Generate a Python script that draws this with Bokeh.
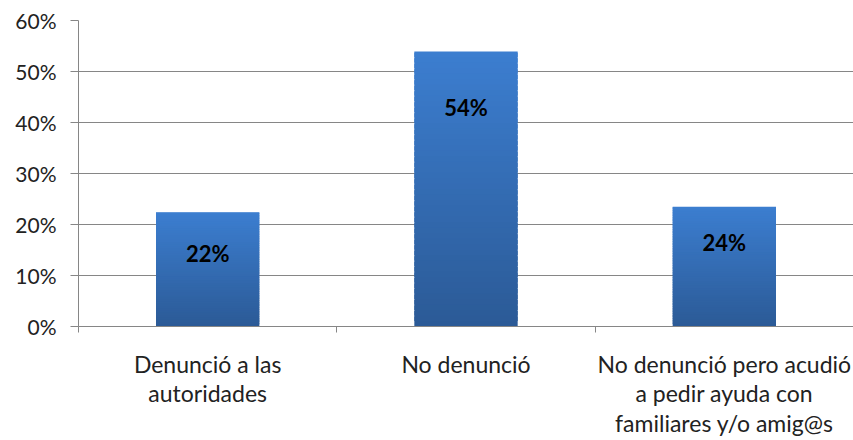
from bokeh.plotting import figure
from bokeh.embed import file_html
from bokeh.resources import INLINE
from bokeh.models import FixedTicker, PrintfTickFormatter, Range1d, ColumnDataSource
from bokeh.core.properties import value

categories = ["Denunció a las\nautoridades", "No denunció",
              "No denunció pero acudió\na pedir ayuda con\nfamiliares y/o amig@s"]
values = [22.4, 53.9, 23.5]
bar_labels = ["22%", "54%", "24%"]
y_ticks = [0, 10, 20, 30, 40, 50, 60]

FONT = "Lato"
GRID = "#868686"
TOP = (0x3C, 0x7E, 0xD0)
BOT = (0x2B, 0x5A, 0x96)

p = figure(width=853, height=440, output_backend="svg", toolbar_location=None,
           x_range=Range1d(0, len(categories)), y_range=Range1d(0, 60),
           min_border_left=78, min_border_right=0, min_border_top=20, min_border_bottom=114)
p.outline_line_color = None
p.xgrid.grid_line_color = None
p.ygrid.grid_line_color = GRID
p.ygrid.ticker = FixedTicker(ticks=y_ticks)

# bars with vertical gradient (overlapping slices of each bar)
N = 50
xs_l, xs_r, bs, ts, cols = [], [], [], [], []
for i, v in enumerate(values):
    cx = i + 0.5
    for k in range(N):
        t = (k + 0.5) / N
        c = tuple(int(round(BOT[j] + (TOP[j] - BOT[j]) * t)) for j in range(3))
        xs_l.append(cx - 0.2)
        xs_r.append(cx + 0.2)
        bs.append(v * k / N)
        ts.append(min(v, v * (k + 1.8) / N))
        cols.append("#%02x%02x%02x" % c)
p.quad(left=xs_l, right=xs_r, bottom=bs, top=ts, fill_color=cols, line_color=None)

label_offsets = [41, 56, 36]
src = ColumnDataSource(dict(x=[i + 0.5 for i in range(len(values))], y=values,
                            t=bar_labels, off=label_offsets))
p.text(x="x", y="y", text="t", y_offset="off", source=src, text_align="center",
       text_baseline="middle", text_font=value(FONT), text_font_style="bold",
       text_font_size="22px", text_color="#000000")

# y axis
ya = p.yaxis[0]
ya.ticker = FixedTicker(ticks=y_ticks)
ya.formatter = PrintfTickFormatter(format="%d%%")
ya.axis_line_color = GRID
ya.major_tick_line_color = GRID
ya.major_tick_out = 8
ya.major_tick_in = 0
ya.minor_tick_line_color = None
ya.major_label_text_font = FONT
ya.major_label_text_font_size = "21px"
ya.major_label_text_color = "#222222"
ya.major_label_standoff = 14

# x axis
xa = p.xaxis[0]
xa.ticker = FixedTicker(ticks=[i + 0.5 for i in range(len(categories))],
                        minor_ticks=list(range(len(categories) + 1)))
xa.major_label_overrides = {i + 0.5: c for i, c in enumerate(categories)}
xa.axis_line_color = GRID
xa.major_tick_line_color = None
xa.minor_tick_line_color = GRID
xa.minor_tick_out = 6
xa.minor_tick_in = 0
xa.major_label_text_font = FONT
xa.major_label_text_font_size = "23px"
xa.major_label_text_color = "#222222"
xa.major_label_standoff = 17
xa.major_label_text_line_height = 1.06

open("out.html", "w").write(file_html(p, INLINE))
